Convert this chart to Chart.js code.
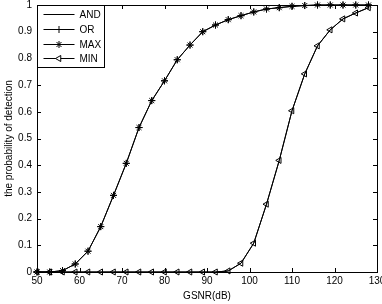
<!DOCTYPE html>
<html>
<head>
<meta charset="utf-8">
<script src="https://cdn.jsdelivr.net/npm/chart.js@4.4.1/dist/chart.umd.min.js"></script>
<style>
    html, body { margin: 0; padding: 0; background: #fff; }
</style>
</head>
<body>
<canvas id="chart" width="382" height="304"></canvas>
<script>
// GSNR sample points (dB)
const gsnr = [50, 53, 56, 59, 62, 65, 68, 71, 74, 77, 80, 83, 86, 89, 92,
              95, 98, 101, 104, 107, 110, 113, 116, 119, 122, 125, 128];

// probability of detection per rule
const andValues = [0, 0, 0, 0, 0, 0, 0, 0, 0, 0, 0, 0, 0, 0, 0,
                   0.004, 0.033, 0.108, 0.254, 0.418, 0.604, 0.742, 0.847, 0.907, 0.948, 0.97, 0.99];
const orValues = [0, 0, 0.005, 0.03, 0.078, 0.17, 0.287, 0.407, 0.541, 0.642, 0.716, 0.795, 0.85, 0.9, 0.925,
                  0.945, 0.96, 0.974, 0.985, 0.99, 0.995, 0.998, 1, 1, 1, 1, 1];
const maxValues = [0, 0, 0.005, 0.03, 0.078, 0.17, 0.287, 0.407, 0.541, 0.642, 0.716, 0.795, 0.85, 0.9, 0.925,
                   0.945, 0.96, 0.974, 0.985, 0.99, 0.995, 0.998, 1, 1, 1, 1, 1];
const minValues = [0, 0, 0, 0, 0, 0, 0, 0, 0, 0, 0, 0, 0, 0, 0,
                   0.004, 0.033, 0.108, 0.254, 0.418, 0.604, 0.742, 0.847, 0.907, 0.948, 0.97, 0.99];

const seriesNames = ['AND', 'OR', 'MAX', 'MIN'];

// axis ticks
const xTicks = [50, 60, 70, 80, 90, 100, 110, 120, 130];
const xTickLabels = ['50', '60', '70', '80', '90', '100', '110', '120', '130'];
const yTicks = [0, 0.1, 0.2, 0.3, 0.4, 0.5, 0.6, 0.7, 0.8, 0.9, 1];
const yTickLabels = ['0', '0.1', '0.2', '0.3', '0.4', '0.5', '0.6', '0.7', '0.8', '0.9', '1'];

const FONT = '"Liberation Sans", Arial, sans-serif';
Chart.defaults.font.family = FONT;
Chart.defaults.font.size = 10;
Chart.defaults.color = '#000';

function toPoints(values) {
    return gsnr.map((x, i) => ({ x: x, y: values[i] }));
}

function makeSeries(label, values, style, rotation) {
    return {
        label: label,
        data: toPoints(values),
        borderColor: '#000',
        backgroundColor: 'rgba(0,0,0,0)',
        borderWidth: 1,
        pointStyle: style,
        pointRotation: rotation || 0,
        pointRadius: style ? 3.5 : 0,
        pointBorderColor: '#000',
        pointBackgroundColor: 'rgba(0,0,0,0)',
        pointBorderWidth: 1,
        tension: 0,
        clip: false
    };
}

// box with inward ticks, matlab style
const boxPlugin = {
    id: 'boxTicks',
    afterDatasetsDraw(chart) {
        const { ctx, chartArea: a, scales } = chart;
        const len = 4;
        ctx.save();
        ctx.strokeStyle = '#000';
        ctx.lineWidth = 1;
        ctx.beginPath();
        xTicks.forEach(v => {
            const px = Math.round(scales.x.getPixelForValue(v)) + 0.5;
            ctx.moveTo(px, a.bottom);
            ctx.lineTo(px, a.bottom - len);
            ctx.moveTo(px, a.top);
            ctx.lineTo(px, a.top + len);
        });
        yTicks.forEach(v => {
            const py = Math.round(scales.y.getPixelForValue(v)) + 0.5;
            ctx.moveTo(a.left, py);
            ctx.lineTo(a.left + len, py);
            ctx.moveTo(a.right, py);
            ctx.lineTo(a.right - len, py);
        });
        ctx.stroke();
        ctx.strokeRect(Math.round(a.left) + 0.5, Math.round(a.top) + 0.5,
                       Math.round(a.right - a.left), Math.round(a.bottom - a.top));
        ctx.restore();
    }
};

// legend drawn inside the top-left corner
const legendPlugin = {
    id: 'insideLegend',
    afterDraw(chart) {
        const { ctx, chartArea: a } = chart;
        const left = Math.round(a.left) + 0.5;
        const top = Math.round(a.top) + 0.5;
        const w = 67, h = 62;
        ctx.save();
        ctx.fillStyle = '#fff';
        ctx.fillRect(left, top, w, h);
        ctx.strokeStyle = '#000';
        ctx.lineWidth = 1;
        ctx.strokeRect(left, top, w, h);
        ctx.font = '10px ' + FONT;
        ctx.textBaseline = 'middle';
        ctx.textAlign = 'left';
        chart.data.datasets.forEach((ds, i) => {
            const y = Math.round(a.top + 9 + i * 14.8) + 0.5;
            ctx.beginPath();
            ctx.moveTo(left + 6, y);
            ctx.lineTo(left + 37, y);
            ctx.stroke();
            if (ds.pointStyle) {
                Chart.helpers.drawPoint(ctx, {
                    pointStyle: ds.pointStyle,
                    rotation: ds.pointRotation,
                    radius: ds.pointRadius,
                    borderWidth: 1
                }, left + 21.5, y);
            }
            ctx.fillStyle = '#000';
            ctx.fillText(ds.label, left + 42, y + 0.5);
            ctx.fillStyle = '#fff';
        });
        ctx.restore();
    }
};

new Chart(document.getElementById('chart'), {
    type: 'line',
    data: {
        datasets: [
            makeSeries(seriesNames[0], andValues, false),
            makeSeries(seriesNames[1], orValues, 'cross'),
            makeSeries(seriesNames[2], maxValues, 'star'),
            makeSeries(seriesNames[3], minValues, 'triangle', -90)
        ]
    },
    options: {
        responsive: false,
        animation: false,
        layout: { padding: { top: 4, right: 5, left: 0, bottom: 0 } },
        plugins: {
            legend: { display: false },
            tooltip: { enabled: false }
        },
        scales: {
            x: {
                type: 'linear',
                min: 50,
                max: 130,
                afterBuildTicks: (scale) => { scale.ticks = xTicks.map(v => ({ value: v })); },
                afterFit: (scale) => {
                    scale.height = 32;
                    scale.paddingLeft = 0;
                    scale.paddingRight = 0;
                },
                ticks: {
                    autoSkip: false,
                    maxRotation: 0,
                    padding: 3,
                    callback: (v, i) => xTickLabels[i]
                },
                grid: { display: false, drawTicks: false },
                border: { display: false },
                title: {
                    display: true,
                    text: 'GSNR(dB)',
                    padding: { top: 0, bottom: 2 }
                }
            },
            y: {
                min: 0,
                max: 1,
                afterBuildTicks: (scale) => { scale.ticks = yTicks.map(v => ({ value: v })); },
                afterFit: (scale) => {
                    scale.width = 37;
                    scale.paddingTop = 0;
                    scale.paddingBottom = 0;
                },
                ticks: {
                    autoSkip: false,
                    padding: 5,
                    callback: (v, i) => yTickLabels[i]
                },
                grid: { display: false, drawTicks: false },
                border: { display: false },
                title: {
                    display: true,
                    text: 'the probability of detection',
                    padding: { top: 3, bottom: 0 }
                }
            }
        }
    },
    plugins: [boxPlugin, legendPlugin]
});
</script>
</body>
</html>
